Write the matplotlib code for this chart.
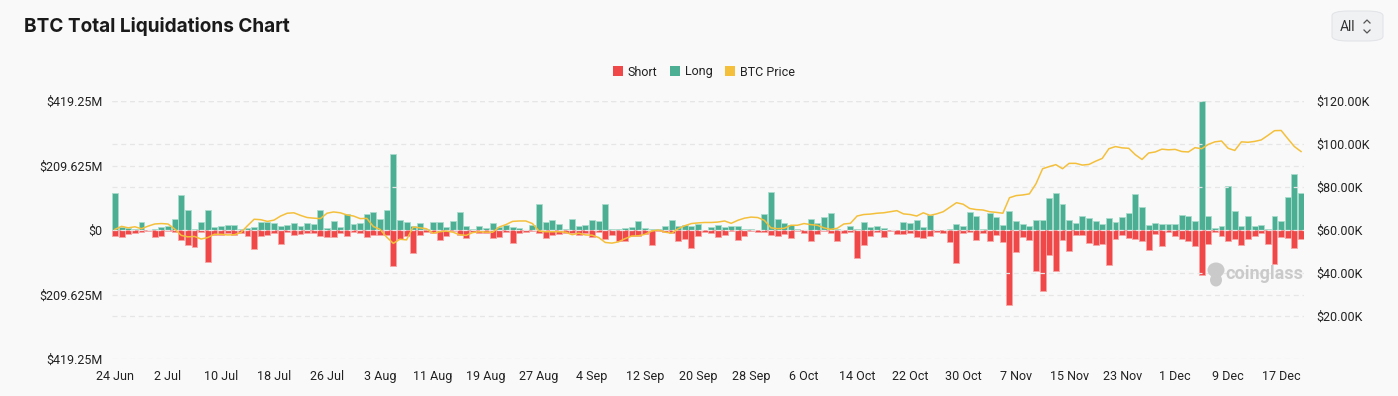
import matplotlib
matplotlib.use("Agg")
import matplotlib.pyplot as plt
import numpy as np
import pandas as pd
from matplotlib.patches import Patch, FancyBboxPatch, Ellipse
from matplotlib.lines import Line2D
from matplotlib.ticker import FuncFormatter

# ---------------- data ----------------
start_date = "2024-06-24"
n_days = 180

long_liq = [
    120, 11, 8, 4, 27, 1, 2, 10, 12, 37, 114, 66, 4, 26, 65, 10, 13, 16, 16, 2, 5, 9, 25, 25, 23, 12, 17, 23, 12, 22,
    18, 66, 5, 30, 10, 51, 21, 24, 51, 60, 37, 66, 248,
    34, 27, 13, 24, 4, 27, 27, 10, 30, 60, 12, 2, 14, 8, 22, 9, 15, 9, 8, 1, 16, 86, 27, 31, 18, 2, 35, 14, 17, 34,
    28, 84, 4, 4, 8, 9, 28, 8, 2, 4, 14, 34, 14, 16,
    12, 18, 0.5, 10, 16, 9, 12, 12, 4, 4, 0.5, 51, 122, 35, 22, 16, 4, 1, 35, 22, 41, 54, 4, 1, 14, 4, 27, 11, 12, 8,
    1, 0.5, 27, 24, 31, 9, 49, 0.5, 0.5, 4, 18, 14, 60, 47, 4, 55, 43,
    17, 61, 28, 20, 13, 34, 34, 103, 119, 86, 31, 23, 44, 40, 28, 21, 38, 26, 41, 54, 118, 76, 15, 23, 21, 20, 21, 49,
    47, 29, 419, 44, 6, 13, 144, 62, 13, 44, 13, 15, 4, 44, 28, 108, 182, 121,
]

short_liq = [
    20, 22, 13, 11, 6, 3, 22, 20, 4, 6, 32, 50, 56, 6, 103, 15, 15, 11, 15, 11, 20, 63, 20, 15, 11, 44, 6, 17, 14, 10,
    11, 20, 22, 22, 9, 20, 6, 11, 23, 15, 15, 15, 117,
    29, 20, 75, 16, 5, 11, 31, 20, 4, 16, 27, 5, 9, 9, 26, 23, 6, 42, 9, 5, 4, 11, 27, 17, 13, 11, 9, 15, 10, 23,
    6, 29, 17, 37, 36, 20, 20, 13, 49, 2, 6, 9, 36, 30,
    57, 20, 6, 9, 24, 17, 4, 31, 20, 4, 5, 6, 16, 20, 13, 26, 3, 10, 37, 13, 4, 11, 36, 10, 6, 90, 50, 20, 8, 23,
    4, 14, 14, 10, 23, 25, 20, 6, 11, 40, 107, 9, 6, 34, 9, 37, 15,
    38, 245, 72, 24, 33, 134, 198, 82, 134, 31, 67, 17, 16, 42, 48, 45, 115, 30, 17, 26, 28, 37, 64, 13, 53, 6, 20, 28,
    35, 51, 146, 44, 6, 20, 37, 30, 48, 28, 20, 11, 45, 110, 24, 26, 58, 29,
]

btc_price_k = [
    60.3, 61.7, 61.0, 61.5, 60.6, 61.8, 62.8, 63.0, 62.8, 60.5, 57.5, 56.8, 57.0, 55.8, 56.5, 58.0, 58.0, 57.7, 57.8,
    58.8, 62.0, 65.0, 64.8, 64.0, 64.6, 66.5, 67.8, 68.0, 66.8, 65.8, 65.5, 65.3, 67.8, 68.4, 68.0, 67.0, 66.5, 65.3,
    65.4, 61.6, 60.3, 56.7, 53.8,
    55.7, 55.4, 61.4, 61.0, 60.6, 58.5, 59.2, 59.5, 59.0, 57.8, 57.5, 58.8, 59.2, 59.0, 59.0, 61.4, 62.5, 64.0, 64.2,
    64.2, 63.0, 59.5, 59.2, 59.2, 59.2, 59.0, 57.8, 58.5, 57.7, 57.6, 56.5, 54.2, 53.9, 54.5, 56.0, 57.2, 57.3, 58.0,
    59.5, 60.0, 59.0, 58.5, 60.6, 62.0,
    63.0, 63.3, 63.5, 63.5, 63.7, 64.2, 63.1, 64.5, 65.5, 66.0, 65.8, 64.5, 61.0, 60.6, 60.8, 62.2, 62.2, 63.0, 62.5,
    62.2, 61.0, 60.3, 60.8, 62.8, 63.1, 66.5, 67.2, 67.4, 67.8, 68.0, 68.5, 69.0, 67.5, 67.2, 66.5, 68.0, 66.8, 67.5,
    68.5, 70.6, 72.7, 72.0, 70.0, 69.5, 69.3, 68.5, 68.2,
    67.8, 75.0, 76.0, 76.3, 76.8, 81.5, 88.5, 89.5, 90.4, 88.5, 91.0, 91.0, 90.2, 90.5, 92.0, 93.3, 97.8, 98.8, 98.2,
    98.0, 95.0, 92.8, 95.8, 96.3, 97.6, 97.3, 97.5, 96.5, 96.3, 98.3, 97.8, 99.8, 101.0, 101.4, 98.0, 97.0, 101.0,
    100.8, 101.2, 101.9, 104.0, 106.2, 106.3, 102.5, 98.8, 96.5,
]

left_ticks = [-419.25, -209.625, 0, 209.625, 419.25]
right_ticks = [20, 40, 60, 80, 100, 120]
tick_step = 8

# ---------------- style ----------------
BG = "#f9f9f9"
GREEN = "#4caf93"
GREEN_EDGE = "#a8dccb"
RED = "#f04848"
RED_EDGE = "#f7a5a5"
GOLD = "#f4c03c"
GRID = "#e6e6e6"
TXT = "#222222"
FONT = ["Roboto", "DejaVu Sans"]
plt.rcParams["font.family"] = FONT

W, H = 1398, 396
fig = plt.figure(figsize=(W / 100, H / 100), dpi=100, facecolor=BG)

ax = fig.add_axes([112 / W, 37 / H, 1192 / W, 258 / H])
ax.set_facecolor(BG)

dates = pd.date_range(start_date, periods=n_days, freq="D")
x = np.arange(n_days)
long_arr = np.array(long_liq, dtype=float)
short_arr = np.array(short_liq, dtype=float)

for yv in left_ticks:
    ax.axhline(yv, color=GRID, lw=0.9, ls=(0, (4, 3)), zorder=0)

ax.bar(x, long_arr, width=0.9, color=GREEN, edgecolor=GREEN_EDGE, linewidth=0.6, zorder=2)
ax.bar(x, -short_arr, width=0.9, color=RED, edgecolor=RED_EDGE, linewidth=0.6, zorder=2)

ax.set_xlim(-0.45, n_days - 0.55)
ax.set_ylim(left_ticks[0], left_ticks[-1])
ax.set_yticks(left_ticks)
ax.yaxis.set_major_formatter(FuncFormatter(lambda v, p: "$0" if v == 0 else f"${abs(v):g}M"))
ax.set_xticks(x[::tick_step])
ax.set_xticklabels([f"{d.day} {d.strftime('%b')}" for d in dates[::tick_step]])
ax.tick_params(axis="both", length=0, labelsize=9, colors=TXT)
ax.tick_params(axis="y", pad=7)
ax.tick_params(axis="x", pad=8)
for s in ax.spines.values():
    s.set_visible(False)

ax2 = ax.twinx()
ax2.set_ylim(0, 120)
for yv in right_ticks:
    ax2.axhline(yv, color=GRID, lw=0.9, ls=(0, (4, 3)), zorder=0)
ax2.plot(x, btc_price_k, color=GOLD, lw=1.1, zorder=3)
ax2.set_yticks(right_ticks)
ax2.yaxis.set_major_formatter(FuncFormatter(lambda v, p: f"${v:.2f}K"))
ax2.tick_params(axis="y", length=0, labelsize=9, colors=TXT, pad=9)
for s in ax2.spines.values():
    s.set_visible(False)
ax2.patch.set_visible(False)

# watermark
fig.text(1303 / W, 1 - 274 / H, "coinglass", ha="right", va="center", fontsize=13,
         color="#cacaca", fontweight="bold", zorder=1)
fig.patches.append(Ellipse((1216 / W, 1 - 270 / H), 17 / W, 15 / H, transform=fig.transFigure,
                           facecolor="#cacaca", edgecolor="none"))
fig.patches.append(Ellipse((1216 / W, 1 - 280 / H), 12 / W, 13 / H, transform=fig.transFigure,
                           facecolor="#cacaca", edgecolor="none"))

# title
fig.text(24 / W, 1 - 27 / H, "BTC Total Liquidations Chart", ha="left", va="center",
         fontsize=13.7, fontweight="bold", color="#1a1a1a", family=["Inter", "DejaVu Sans"])

# legend
handles = [Patch(facecolor=RED, edgecolor="none", label="Short"),
           Patch(facecolor=GREEN, edgecolor="none", label="Long"),
           Patch(facecolor=GOLD, edgecolor="none", label="BTC Price")]
fig.legend(handles=handles, loc="center", bbox_to_anchor=(704 / W, 1 - 72 / H), ncol=3, frameon=False,
           fontsize=9, handlelength=0.8, handleheight=0.8, handletextpad=0.4, columnspacing=1.0,
           labelcolor=TXT)

# "All" selector
btn = FancyBboxPatch((1332 / W, 1 - 41 / H), 51 / W, 30 / H,
                     boxstyle="round,pad=0,rounding_size=0.012", transform=fig.transFigure,
                     facecolor="#f0f1f3", edgecolor="#e2e4e8", linewidth=0.8)
fig.patches.append(btn)
fig.text(1340 / W, 1 - 27 / H, "All", ha="left", va="center", fontsize=10, color="#333333")
fig.lines.append(Line2D([1364 / W, 1367 / W, 1370 / W], [1 - 23 / H, 1 - 20 / H, 1 - 23 / H],
                        transform=fig.transFigure, color="#555555", lw=0.9))
fig.lines.append(Line2D([1364 / W, 1367 / W, 1370 / W], [1 - 30 / H, 1 - 33 / H, 1 - 30 / H],
                        transform=fig.transFigure, color="#555555", lw=0.9))

fig.savefig("out.png", dpi=100, facecolor=BG)
